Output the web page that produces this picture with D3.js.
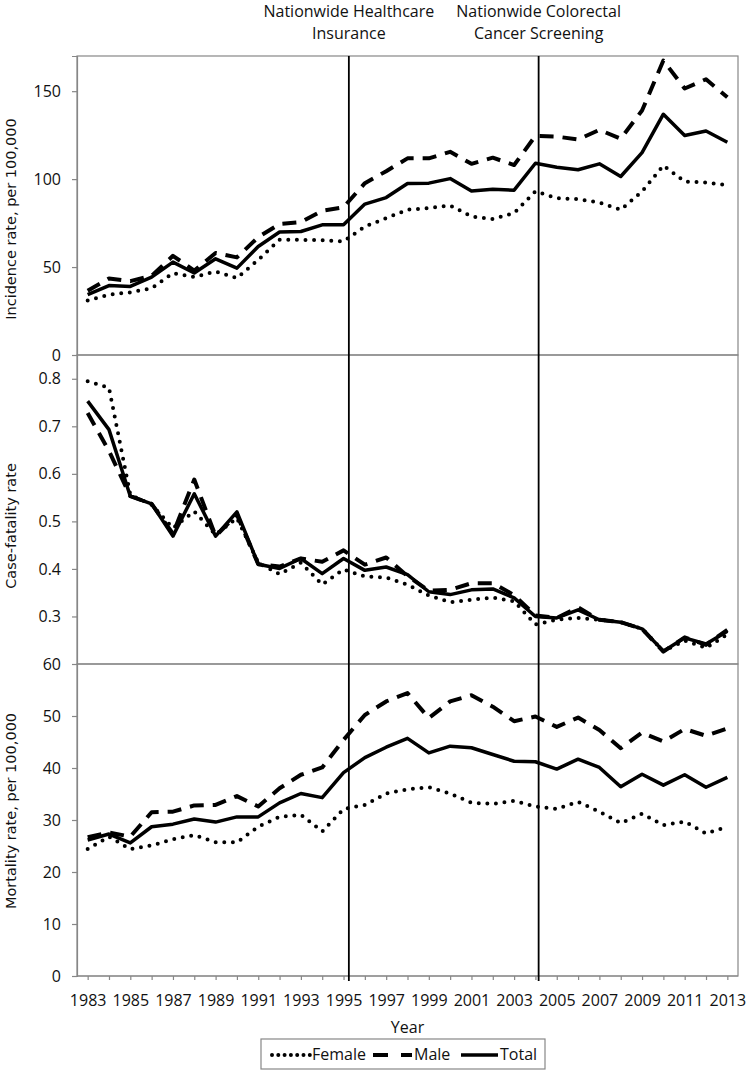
<!DOCTYPE html>
<html><head><meta charset="utf-8">
<script src="https://cdn.jsdelivr.net/npm/d3@7/dist/d3.min.js"></script>
<style>body{margin:0;background:#fff}svg{display:block}</style>
</head><body>
<svg id="chart" width="748" height="1073"></svg>
<script>
const years = d3.range(1983, 2014);
const yearTickLabels = d3.range(1983, 2014, 2);

const incidenceFemale = [31,34.3,35.6,38,46.6,44.3,47.5,43.7,54.1,65.5,65.5,65.2,64.6,73,77.8,82.6,83.5,85,78.8,77.3,80.7,93,89.2,88.6,86.7,82.6,93,107.7,98.6,98.1,96.5];
const incidenceMale   = [36.5,43.5,42,45,56.4,48,58,55.5,67,74.5,75.5,82,84,97.7,104.5,111.8,111.8,115.5,108.7,112.2,108,124.6,124.2,122.5,128,123,139,167.4,151.5,156.8,146.5];
const incidenceTotal  = [34.3,39.5,39,44.3,52.8,46.6,54.7,49.4,61.7,69.9,70.2,74,74,85.8,89.5,97.5,97.7,100.3,93.3,94.3,93.7,109,106.8,105.3,108.7,101.5,115.1,136.9,124.8,127.4,121];

const fatalityFemale = [0.795,0.781,0.556,0.535,0.486,0.521,0.472,0.507,0.413,0.389,0.413,0.367,0.399,0.384,0.382,0.367,0.344,0.33,0.335,0.34,0.332,0.283,0.293,0.297,0.293,0.288,0.274,0.227,0.249,0.234,0.262];
const fatalityMale   = [0.728,0.648,0.553,0.537,0.474,0.588,0.469,0.514,0.41,0.405,0.422,0.415,0.439,0.409,0.424,0.385,0.354,0.356,0.37,0.37,0.345,0.302,0.297,0.319,0.293,0.288,0.274,0.226,0.256,0.24,0.272];
const fatalityTotal  = [0.753,0.693,0.553,0.537,0.469,0.558,0.469,0.52,0.41,0.401,0.422,0.39,0.422,0.397,0.404,0.388,0.352,0.346,0.356,0.358,0.339,0.3,0.297,0.314,0.293,0.288,0.274,0.227,0.255,0.242,0.269];

const mortalityFemale = [24.4,26.8,24.4,25.1,26.3,27.1,25.7,25.7,28.7,30.6,31,27.8,32.1,32.9,35.1,35.9,36.3,35.1,33.3,33.1,33.7,32.6,32.1,33.5,31.6,29.4,31.2,29,29.7,27.4,28.7];
const mortalityMale   = [26.7,27.6,26.8,31.5,31.6,32.8,32.9,34.6,32.6,36.1,38.7,40.1,45.4,50.2,52.8,54.4,49.6,52.8,54,51.8,49,49.9,47.9,49.7,47.3,43.8,46.8,45.1,47.5,46.2,47.6];
const mortalityTotal  = [26.15,27.3,25.6,28.7,29.2,30.2,29.6,30.6,30.6,33.3,35.1,34.3,39.1,42,44,45.7,42.9,44.2,43.9,42.6,41.3,41.2,39.8,41.7,40.1,36.4,38.8,36.7,38.7,36.3,38.2];

const seriesNames = ["Female","Male","Total"];
const incidenceTicks = [0,50,100,150];
const fatalityTicks = [0.3,0.4,0.5,0.6,0.7,0.8];
const mortalityTicks = [0,10,20,30,40,50,60];
const eventYears = [1995.25, 2004.15];
const eventLabels = [["Nationwide Healthcare","Insurance"],["Nationwide Colorectal","Cancer Screening"]];

const svg = d3.select("#chart");
const L = 77, R = 738;
const GRID = "#878787";
const FONT = "'Open Sans', sans-serif";
const TITLEFONT = "'DejaVu Sans', Verdana, sans-serif";

const x = d3.scaleLinear().domain([1982.5, 2013.5]).range([L, R]);

const styles = {
  Female: {width: 4, dash: "0,8.6", cap: "round"},
  Male:   {width: 4, dash: "14,9", cap: "butt"},
  Total:  {width: 3.5, dash: null, cap: "butt"}
};

const panels = [
  {top: 56, bottom: 355, domain: [0,170], ticks: incidenceTicks, fmt: d3.format("d"),
   title: "Incidence rate, per 100,000", titleY: 219,
   data: [incidenceFemale, incidenceMale, incidenceTotal]},
  {top: 355, bottom: 664, domain: [0.2,0.85], ticks: fatalityTicks, fmt: d3.format(".1f"),
   title: "Case-fatality rate", titleY: 526,
   data: [fatalityFemale, fatalityMale, fatalityTotal]},
  {top: 664, bottom: 976, domain: [0,60], ticks: mortalityTicks, fmt: d3.format("d"),
   title: "Mortality rate, per 100,000", titleY: 811,
   data: [mortalityFemale, mortalityMale, mortalityTotal]}
];

panels.forEach((p, pi) => {
  const y = d3.scaleLinear().domain(p.domain).range([p.bottom, p.top]);
  const g = svg.append("g");
  // frame
  g.append("rect").attr("x", L).attr("y", p.top).attr("width", R - L).attr("height", p.bottom - p.top)
    .attr("fill", "none").attr("stroke", GRID).attr("stroke-width", 1.2);
  // y axis
  const ax = g.append("g").attr("transform", `translate(${L},0)`)
    .call(d3.axisLeft(y).tickValues(p.ticks).tickSize(5).tickPadding(11).tickFormat(p.fmt));
  ax.select(".domain").attr("stroke", GRID).attr("stroke-width", 1.2);
  ax.selectAll(".tick line").attr("stroke", GRID).attr("stroke-width", 1.2);
  ax.selectAll(".tick text").attr("font-family", FONT).attr("font-size", 16).attr("fill", "#111");
  // y title
  svg.append("text").attr("transform", `translate(16,${p.titleY}) rotate(-90)`)
    .attr("text-anchor", "middle").attr("font-family", TITLEFONT).attr("font-size", 14.5)
    .attr("fill", "#111").text(p.title);
  // lines
  const line = d3.line().x((d, i) => x(years[i])).y(d => y(d));
  p.data.forEach((arr, si) => {
    const st = styles[seriesNames[si]];
    g.append("path").datum(arr).attr("d", line).attr("fill", "none").attr("stroke", "#000")
      .attr("stroke-width", st.width).attr("stroke-dasharray", st.dash)
      .attr("stroke-linecap", st.cap).attr("stroke-linejoin", "round");
  });
});

// x axis
const xa = svg.append("g").attr("transform", `translate(0,976)`)
  .call(d3.axisBottom(x).tickValues(years).tickSize(4).tickPadding(6)
    .tickFormat(d => yearTickLabels.includes(d) ? String(d) : ""));
xa.select(".domain").remove();
xa.selectAll(".tick line").attr("stroke", GRID).attr("stroke-width", 1.2);
xa.selectAll(".tick text").attr("font-family", FONT).attr("font-size", 16).attr("fill", "#111")
  .attr("dy", null).attr("y", 30);
svg.append("line").attr("x1", L).attr("x2", R).attr("y1", 976).attr("y2", 976)
  .attr("stroke", GRID).attr("stroke-width", 1.2);

svg.append("text").attr("x", (L + R) / 2).attr("y", 1033).attr("text-anchor", "middle")
  .attr("font-family", FONT).attr("font-size", 16).attr("fill", "#111").text("Year");

// event lines + labels
eventYears.forEach((ev, i) => {
  svg.append("line").attr("x1", x(ev)).attr("x2", x(ev)).attr("y1", 56).attr("y2", 981)
    .attr("stroke", "#000").attr("stroke-width", 1.8);
  eventLabels[i].forEach((t, j) => {
    svg.append("text").attr("x", x(ev)).attr("y", 17 + j * 21.5).attr("text-anchor", "middle")
      .attr("font-family", FONT).attr("font-size", 16).attr("fill", "#111").text(t);
  });
});

// legend
const lg = svg.append("g");
lg.append("rect").attr("x", 261).attr("y", 1039).attr("width", 284).attr("height", 30)
  .attr("fill", "#fff").attr("stroke", GRID).attr("stroke-width", 1.2);
const legendItems = [
  {name: "Female", x0: 272, x1: 310},
  {name: "Male", x0: 373, x1: 412},
  {name: "Total", x0: 461, x1: 498}
];
legendItems.forEach(it => {
  const st = styles[it.name];
  lg.append("line").attr("x1", it.x0).attr("x2", it.x1).attr("y1", 1055).attr("y2", 1055)
    .attr("stroke", "#000").attr("stroke-width", st.width)
    .attr("stroke-dasharray", it.name === "Female" ? "0,6.3" : (it.name === "Male" ? "15,13" : null))
    .attr("stroke-linecap", st.cap);
  lg.append("text").attr("x", it.x1 + 2).attr("y", 1060).attr("font-family", FONT)
    .attr("font-size", 16).attr("fill", "#111").text(it.name);
});
</script>
</body></html>
